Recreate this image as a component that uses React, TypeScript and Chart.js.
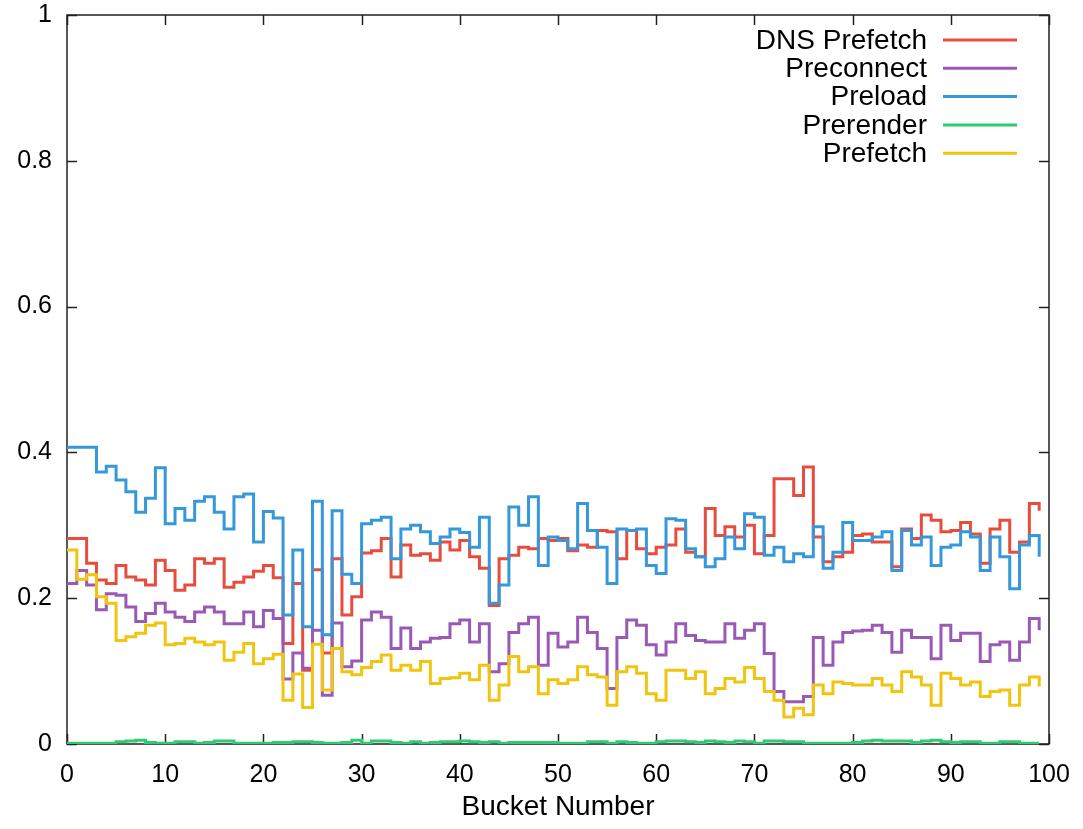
import React, { useEffect, useRef } from "react";
import { Chart, registerables } from "chart.js";

Chart.register(...registerables);

const seriesLabels = ["DNS Prefetch", "Preconnect", "Preload", "Prerender", "Prefetch"];
const seriesColors = ["#e74c3c", "#9b59b6", "#3498db", "#2ecc71", "#f1c40f"];

const xTickValues = [0, 10, 20, 30, 40, 50, 60, 70, 80, 90, 100];
const yTickValues = [0, 0.2, 0.4, 0.6, 0.8, 1];
const yTickLabels = ["0", "0.2", "0.4", "0.6", "0.8", "1"];

const dnsPrefetch = [
  0.282, 0.282, 0.248, 0.225, 0.22, 0.245, 0.229, 0.225, 0.218, 0.252,
  0.238, 0.211, 0.218, 0.254, 0.248, 0.254, 0.215, 0.222, 0.229, 0.237,
  0.245, 0.228, 0.138, 0.22, 0.101, 0.239, 0.125, 0.254, 0.177, 0.202,
  0.262, 0.265, 0.282, 0.229, 0.273, 0.259, 0.261, 0.252, 0.277, 0.266,
  0.279, 0.257, 0.241, 0.19, 0.254, 0.259, 0.27, 0.268, 0.282, 0.279,
  0.282, 0.265, 0.273, 0.27, 0.293, 0.291, 0.254, 0.293, 0.268, 0.261,
  0.27, 0.273, 0.295, 0.263, 0.257, 0.323, 0.286, 0.298, 0.284, 0.3,
  0.261, 0.286, 0.364, 0.364, 0.341, 0.38, 0.284, 0.25, 0.257, 0.263,
  0.286, 0.288, 0.277, 0.277, 0.243, 0.295, 0.282, 0.314, 0.307, 0.291,
  0.293, 0.304, 0.288, 0.248, 0.295, 0.307, 0.263, 0.277, 0.33, 0.32,
];

const preconnect = [
  0.22, 0.238, 0.218, 0.184, 0.206, 0.204, 0.188, 0.168, 0.179, 0.193,
  0.181, 0.174, 0.168, 0.181, 0.188, 0.181, 0.165, 0.165, 0.181, 0.161,
  0.183, 0.172, 0.089, 0.125, 0.104, 0.156, 0.067, 0.166, 0.106, 0.114,
  0.17, 0.181, 0.174, 0.131, 0.159, 0.131, 0.14, 0.145, 0.146, 0.165,
  0.17, 0.14, 0.165, 0.099, 0.11, 0.153, 0.165, 0.174, 0.108, 0.152,
  0.133, 0.14, 0.174, 0.153, 0.131, 0.076, 0.146, 0.17, 0.163, 0.136,
  0.122, 0.14, 0.165, 0.149, 0.142, 0.14, 0.14, 0.165, 0.145, 0.156,
  0.165, 0.124, 0.072, 0.058, 0.058, 0.065, 0.146, 0.108, 0.14, 0.153,
  0.155, 0.156, 0.163, 0.153, 0.126, 0.156, 0.146, 0.146, 0.117, 0.163,
  0.142, 0.152, 0.152, 0.113, 0.136, 0.14, 0.115, 0.14, 0.172, 0.156,
];

const preload = [
  0.407, 0.407, 0.407, 0.373, 0.381, 0.362, 0.346, 0.318, 0.337, 0.379,
  0.302, 0.323, 0.307, 0.333, 0.339, 0.318, 0.295, 0.339, 0.343, 0.277,
  0.319, 0.31, 0.177, 0.266, 0.161, 0.333, 0.15, 0.32, 0.233, 0.22,
  0.302, 0.307, 0.311, 0.254, 0.295, 0.3, 0.291, 0.275, 0.284, 0.295,
  0.29, 0.27, 0.311, 0.193, 0.218, 0.325, 0.3, 0.339, 0.245, 0.284,
  0.279, 0.268, 0.33, 0.293, 0.27, 0.22, 0.295, 0.293, 0.295, 0.245,
  0.234, 0.309, 0.307, 0.268, 0.257, 0.243, 0.254, 0.284, 0.268, 0.316,
  0.311, 0.259, 0.27, 0.25, 0.261, 0.257, 0.298, 0.241, 0.263, 0.304,
  0.279, 0.279, 0.284, 0.291, 0.238, 0.293, 0.273, 0.284, 0.245, 0.27,
  0.273, 0.291, 0.284, 0.238, 0.284, 0.257, 0.213, 0.273, 0.286, 0.257,
];

const prerender = [
  0.001, 0.001, 0.001, 0.001, 0.001, 0.003, 0.004, 0.005, 0.002, 0.001,
  0.001, 0.003, 0.003, 0.001, 0.002, 0.004, 0.004, 0.001, 0.001, 0.001,
  0.001, 0.002, 0.002, 0.003, 0.003, 0.002, 0.001, 0.001, 0.002, 0.005,
  0.001, 0.004, 0.004, 0.002, 0.001, 0.003, 0.001, 0.002, 0.003, 0.003,
  0.004, 0.003, 0.002, 0.003, 0.001, 0.002, 0.002, 0.002, 0.002, 0.002,
  0.001, 0.001, 0.001, 0.003, 0.003, 0.001, 0.003, 0.002, 0.001, 0.001,
  0.003, 0.004, 0.004, 0.003, 0.002, 0.004, 0.003, 0.002, 0.004, 0.003,
  0.001, 0.004, 0.004, 0.003, 0.003, 0.001, 0.001, 0.001, 0.001, 0.001,
  0.002, 0.004, 0.005, 0.004, 0.004, 0.004, 0.002, 0.004, 0.005, 0.003,
  0.002, 0.003, 0.003, 0.001, 0.001, 0.003, 0.003, 0.001, 0.001, 0.001,
];

const prefetch = [
  0.266, 0.226, 0.232, 0.202, 0.193, 0.142, 0.147, 0.152, 0.163, 0.166,
  0.136, 0.138, 0.145, 0.14, 0.136, 0.14, 0.115, 0.126, 0.138, 0.11,
  0.117, 0.123, 0.06, 0.096, 0.05, 0.137, 0.074, 0.131, 0.099, 0.095,
  0.105, 0.113, 0.122, 0.101, 0.108, 0.101, 0.113, 0.083, 0.09, 0.091,
  0.097, 0.088, 0.108, 0.06, 0.081, 0.12, 0.099, 0.106, 0.069, 0.088,
  0.083, 0.088, 0.106, 0.095, 0.092, 0.053, 0.099, 0.106, 0.097, 0.069,
  0.06, 0.101, 0.101, 0.09, 0.099, 0.069, 0.076, 0.09, 0.085, 0.105,
  0.09, 0.072, 0.06, 0.037, 0.049, 0.04, 0.081, 0.069, 0.085, 0.083,
  0.081, 0.081, 0.09, 0.081, 0.072, 0.099, 0.092, 0.081, 0.053, 0.097,
  0.09, 0.081, 0.085, 0.065, 0.072, 0.074, 0.053, 0.081, 0.092, 0.079,
];

const allSeries = [dnsPrefetch, preconnect, preload, prerender, prefetch];

const FONT = '"Liberation Sans", Arial, Helvetica, sans-serif';

const framePlugin = {
  id: "gnuplotFrame",
  beforeDatasetsDraw(chart: any) {
    const { ctx, chartArea } = chart;
    const xs = chart.scales.x;
    const ys = chart.scales.y;
    const { left, right, top, bottom } = chartArea;
    const tl = 10;
    ctx.save();
    ctx.strokeStyle = "#222";
    ctx.lineWidth = 1.5;
    ctx.beginPath();
    ctx.rect(left, top, right - left, bottom - top);
    ctx.stroke();
    ctx.beginPath();
    xTickValues.forEach((v) => {
      const px = Math.round(xs.getPixelForValue(v)) + 0.5;
      ctx.moveTo(px, bottom);
      ctx.lineTo(px, bottom - tl);
      ctx.moveTo(px, top);
      ctx.lineTo(px, top + tl);
    });
    yTickValues.forEach((v) => {
      const py = Math.round(ys.getPixelForValue(v)) + 0.5;
      ctx.moveTo(left, py);
      ctx.lineTo(left + tl, py);
      ctx.moveTo(right, py);
      ctx.lineTo(right - tl, py);
    });
    ctx.stroke();
    ctx.restore();
  },
};

const legendPlugin = {
  id: "gnuplotLegend",
  afterDatasetsDraw(chart: any) {
    const { ctx, chartArea } = chart;
    ctx.save();
    ctx.font = `28px ${FONT}`;
    ctx.textAlign = "right";
    ctx.textBaseline = "middle";
    chart.data.datasets.forEach((ds: any, i: number) => {
      const y = chartArea.top + 25 + i * 28.3;
      ctx.fillStyle = "#000";
      ctx.fillText(ds.label, chartArea.right - 122, y + 1);
      ctx.strokeStyle = ds.borderColor;
      ctx.lineWidth = 3;
      ctx.beginPath();
      ctx.moveTo(chartArea.right - 106, y);
      ctx.lineTo(chartArea.right - 32, y);
      ctx.stroke();
    });
    ctx.restore();
  },
};

export default function App() {
  const canvasRef = useRef<HTMLCanvasElement | null>(null);

  useEffect(() => {
    if (!canvasRef.current) return;
    const datasets = allSeries.map((vals, s) => ({
      label: seriesLabels[s],
      data: vals.map((v, i) => ({ x: i, y: v })),
      borderColor: seriesColors[s],
      backgroundColor: seriesColors[s],
      borderWidth: 3,
      pointRadius: 0,
      fill: false,
      stepped: true as const,
      order: allSeries.length - s,
    }));

    const chart = new Chart(canvasRef.current, {
      type: "line",
      data: { datasets },
      options: {
        animation: false,
        responsive: false,
        devicePixelRatio: 1,
        layout: { padding: { top: 15, right: 34, left: 0, bottom: 0 } },
        plugins: {
          legend: { display: false },
          tooltip: { enabled: false },
        },
        scales: {
          x: {
            type: "linear",
            min: 0,
            max: 100,
            afterFit: (scale: any) => {
              scale.height = 85;
              scale.paddingLeft = 0;
              scale.paddingRight = 0;
            },
            afterBuildTicks: (scale: any) => {
              scale.ticks = xTickValues.map((v) => ({ value: v }));
            },
            grid: { display: false, drawTicks: false },
            border: { display: false },
            ticks: {
              color: "#000",
              font: { family: FONT, size: 25 },
              padding: 16,
              maxRotation: 0,
              autoSkip: false,
              callback: (v: any) => String(v),
            },
            title: {
              display: true,
              text: "Bucket Number",
              color: "#000",
              font: { family: FONT, size: 28 },
              padding: { top: 0, bottom: 5 },
            },
          },
          y: {
            type: "linear",
            min: 0,
            max: 1,
            afterFit: (scale: any) => {
              scale.width = 67;
              scale.paddingTop = 0;
              scale.paddingBottom = 0;
            },
            afterBuildTicks: (scale: any) => {
              scale.ticks = yTickValues.map((v) => ({ value: v }));
            },
            grid: { display: false, drawTicks: false },
            border: { display: false },
            ticks: {
              color: "#000",
              font: { family: FONT, size: 25 },
              padding: 15,
              autoSkip: false,
              callback: (v: any) => {
                const idx = yTickValues.indexOf(v);
                return idx >= 0 ? yTickLabels[idx] : String(v);
              },
            },
          },
        },
      },
      plugins: [framePlugin, legendPlugin],
    });

    return () => chart.destroy();
  }, []);

  return (
    <div style={{ position: "absolute", left: 0, top: 0, width: 1083, height: 829, background: "#fff" }}>
      <canvas ref={canvasRef} width={1083} height={829} />
    </div>
  );
}
